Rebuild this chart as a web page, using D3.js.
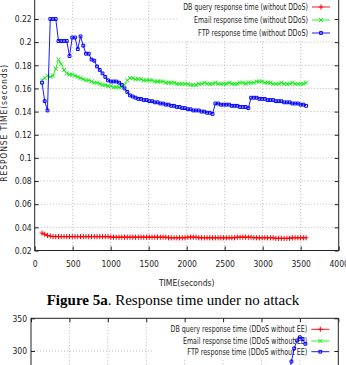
<!DOCTYPE html>
<html><head><meta charset="utf-8">
<script src="https://cdn.jsdelivr.net/npm/d3@7"></script>
<style>
html,body{margin:0;padding:0;background:#fff;}
svg{display:block;}
</style>
</head><body>
<svg id="c" width="346" height="365"></svg>
<script>
// ---------- Figure 5a data (no attack) ----------
const times = [96,132,168,205,241,277,313,349,386,422,458,494,530,567,603,639,675,711,748,784,820,856,892,929,965,1001,1037,1073,1110,1146,1182,1218,1254,1291,1327,1363,1399,1435,1472,1508,1544,1580,1616,1653,1689,1725,1761,1797,1834,1870,1906,1942,1978,2015,2051,2087,2123,2159,2196,2232,2268,2304,2340,2377,2413,2449,2485,2521,2558,2594,2630,2666,2702,2739,2775,2811,2847,2883,2920,2956,2992,3028,3064,3101,3137,3173,3209,3245,3282,3318,3354,3390,3426,3463,3499,3535,3571];
const dbValues = [0.035,0.034,0.033,0.0325,
 0.032,0.032,0.032,0.032,0.032,0.032,0.032,0.032,0.032,0.032,0.032,0.032,0.032,0.032,0.032,0.032,0.032,0.032,0.032,0.032,0.032,
 0.0315,0.0315,0.0315,0.0315,0.0315,0.0315,0.0315,0.0315,0.0315,0.0315,0.0315,0.0315,0.0315,0.0315,0.0315,0.0315,0.0315,0.0315,0.0315,0.0315,0.0315,
 0.031,0.031,0.031,0.031,0.031,0.031,0.031,
 0.0315,0.0315,0.0315,0.0315,
 0.031,0.031,0.031,0.031,0.031,0.031,0.031,0.031,0.031,0.031,0.031,0.031,0.031,0.031,
 0.0315,0.0315,0.0315,0.0315,0.0315,0.0315,
 0.031,0.031,0.031,0.031,0.031,0.031,0.031,0.031,
 0.0305,0.0305,0.0305,0.0305,0.0305,0.0305,
 0.031,0.031,0.031,0.031,0.031,0.031];
const emailValues = [0.167,0.169,0.171,0.170,0.171,0.177,0.185,0.181,0.176,0.173,0.172,0.172,0.171,0.170,0.169,0.168,0.167,0.167,0.166,0.165,0.165,0.164,0.163,0.163,0.162,0.162,0.161,0.161,0.161,0.161,0.163,0.167,0.169,0.169,0.168,0.168,0.168,0.167,0.167,0.167,0.167,0.166,0.166,0.166,0.166,0.165,0.165,0.165,0.165,0.164,0.164,
 0.164,0.164,0.164,0.163,0.163,0.163,0.164,0.164,0.165,0.164,0.164,0.164,0.165,0.164,0.164,0.164,0.164,0.165,0.164,0.164,0.164,0.165,0.165,0.164,0.165,0.165,0.165,0.166,0.166,0.166,0.165,0.165,0.165,0.164,0.164,0.164,0.165,0.164,0.164,0.164,0.165,0.164,0.164,0.164,0.164,0.165];
const ftpValues = [0.165,0.149,0.141,0.220,0.220,0.220,0.201,0.201,0.201,0.201,0.188,0.204,0.204,0.194,0.205,0.197,0.190,0.190,0.185,0.184,0.179,0.176,0.173,0.170,0.167,0.166,0.166,0.166,0.165,0.163,0.160,0.157,0.154,0.153,0.152,0.151,0.151,0.150,0.150,0.149,0.149,0.148,0.148,0.147,0.147,0.146,0.146,0.145,0.145,0.144,0.144,0.143,0.143,0.142,0.142,0.141,0.141,0.141,0.140,0.140,0.139,0.139,0.138,
 0.147,0.147,0.146,0.146,0.146,0.146,0.145,0.145,0.145,0.144,0.144,0.144,0.143,
 0.152,0.152,0.152,0.151,0.151,0.151,0.150,0.150,0.150,0.149,0.149,0.149,0.148,0.148,0.148,0.147,0.147,0.147,0.146,0.146,0.145];
const xTicks = [0,500,1000,1500,2000,2500,3000,3500,4000];
const yTicks = [0.02,0.04,0.06,0.08,0.1,0.12,0.14,0.16,0.18,0.2,0.22,0.24];
const legendA = ["DB query response time (without DDoS)","Email response time (without DDoS)","FTP response time (without DDoS)"];

// ---------- Figure 5b (partially visible) ----------
const ddosTimes = [3354,3390,3426,3463,3499,3535,3571];
const ddosFtpValues = [262,284,304,316,321,318,311];
const y2Ticks = [300,350];
const legendB = ["DB query response time (DDoS without EE)","Email response time (DDoS without EE)","FTP response time (DDoS without EE)"];

const colors = ["#ff0000","#11ee11","#0000ff"];
const markers = ["plus","cross","box"];
const FONT = '"Liberation Sans Narrow","DejaVu Sans Condensed","Liberation Sans",sans-serif';

const svg = d3.select("#c");
svg.append("rect").attr("width",346).attr("height",365).attr("fill","#fff");

function markerPath(type){
  if(type==="plus") return "M-2.3,0H2.3M0,-2.6V2.6";
  if(type==="cross") return "M-2,-2L2,2M-2,2L2,-2";
  return "M-1.4,-1.4H1.4V1.4H-1.4Z";
}

function drawGrid(g, x, y, xT, yT, L, R, T, B){
  g.append("g").selectAll("line").data(xT.filter(v=>v>xT[0]&&v<xT[xT.length-1])).join("line")
    .attr("x1",d=>x(d)).attr("x2",d=>x(d)).attr("y1",T).attr("y2",B)
    .attr("stroke","#a8a8a8").attr("stroke-width",0.8).attr("stroke-dasharray","1,2");
  g.append("g").selectAll("line").data(yT.filter(v=>y(v)>T+1&&y(v)<B-1)).join("line")
    .attr("x1",L).attr("x2",R).attr("y1",d=>y(d)).attr("y2",d=>y(d))
    .attr("stroke","#a8a8a8").attr("stroke-width",0.8).attr("stroke-dasharray","1,2");
}

function drawAxes(g, x, y, xT, yT, L, R, T, B, showXLabels, yFmt, padY){
  const left = g.append("g").attr("transform",`translate(${L},0)`)
    .call(d3.axisLeft(y).tickValues(yT).tickSize(-4).tickPadding(padY).tickFormat(yFmt));
  const right = g.append("g").attr("transform",`translate(${R},0)`)
    .call(d3.axisRight(y).tickValues(yT).tickSize(-4).tickFormat(""));
  const top = g.append("g").attr("transform",`translate(0,${T})`)
    .call(d3.axisTop(x).tickValues(xT).tickSize(-4).tickFormat(""));
  const axes=[left,right,top];
  if(showXLabels){
    const bot = g.append("g").attr("transform",`translate(0,${B})`)
      .call(d3.axisBottom(x).tickValues(xT).tickSize(-4).tickPadding(10).tickFormat(d3.format("d")));
    axes.push(bot);
  }
  axes.forEach(a=>{
    a.select(".domain").remove();
    a.selectAll("line").attr("stroke","#222").attr("stroke-width",1);
    a.selectAll("text").attr("font-size","8.5px").attr("fill","#222").attr("font-family",FONT);
  });
  g.append("rect").attr("x",L).attr("y",T).attr("width",R-L).attr("height",B-T)
    .attr("fill","none").attr("stroke","#222").attr("stroke-width",1);
}

function drawSeries(g, x, y, xs, ys, i){
  const pts = xs.map((t,k)=>[t,ys[k]]);
  g.append("path").datum(pts)
    .attr("d", d3.line().x(d=>x(d[0])).y(d=>y(d[1])))
    .attr("fill","none").attr("stroke",colors[i]).attr("stroke-width",0.9);
  g.append("g").selectAll("path").data(pts).join("path")
    .attr("transform",d=>`translate(${x(d[0])},${y(d[1])})`)
    .attr("d",markerPath(markers[i]))
    .attr("fill","none").attr("stroke",colors[i]).attr("stroke-width",1);
}

function drawLegend(g, labels, widths, boxX, boxY, boxW, boxH, textX, rowYs){
  g.append("rect").attr("x",boxX).attr("y",boxY).attr("width",boxW).attr("height",boxH).attr("fill","#fff");
  labels.forEach((lab,i)=>{
    const tg = g.append("g");
    const t = tg.append("text").attr("x",0).attr("y",0).attr("dy","0.35em")
      .attr("text-anchor","end").attr("font-family",FONT).attr("font-size","9px").attr("fill","#222").text(lab);
    const w = t.node().getComputedTextLength();
    const sx = w>0 ? widths[i]/w : 1;
    tg.attr("transform",`translate(${textX},${rowYs[i]}) scale(${sx},1)`);
    g.append("line").attr("x1",textX+4).attr("x2",textX+22).attr("y1",rowYs[i]).attr("y2",rowYs[i])
      .attr("stroke",colors[i]).attr("stroke-width",0.9);
    g.append("path").attr("transform",`translate(${textX+13},${rowYs[i]})`)
      .attr("d",markerPath(markers[i])).attr("fill","none").attr("stroke",colors[i]).attr("stroke-width",1);
  });
}

// ---------- Chart A ----------
{
  const L=34.7, R=338.7, T=-4.15, B=250.5;
  const x = d3.scaleLinear().domain([0,4000]).range([L,R]);
  const y = d3.scaleLinear().domain([0.02,0.24]).range([B,T]);
  const g = svg.append("g");
  drawGrid(g,x,y,xTicks,yTicks,L,R,T,B);
  drawLegend(g, legendA, [125,114,110], 178, T, R-178-0.5, 40+4.15, 308, [7,20,33]);
  drawSeries(g,x,y,times,dbValues,0);
  drawSeries(g,x,y,times,emailValues,1);
  drawSeries(g,x,y,times,ftpValues,2);
  drawAxes(g,x,y,xTicks,yTicks,L,R,T,B,true,d=>String(d),3);
  g.append("text").attr("transform",`translate(7,${(T+B)/2}) rotate(-90)`)
    .attr("text-anchor","middle").attr("font-family",FONT).attr("font-size","8.5px").attr("fill","#222")
    .attr("textLength",117).attr("lengthAdjust","spacing").text("RESPONSE TIME(seconds)");
  g.append("text").attr("x",(L+R)/2).attr("y",286).attr("text-anchor","middle")
    .attr("font-family",FONT).attr("font-size","8.5px").attr("fill","#222").text("TIME(seconds)");
}

// ---------- Caption ----------
{
  const t = svg.append("text").attr("x",173).attr("y",305).attr("text-anchor","middle")
    .attr("font-family","'Liberation Serif','Times New Roman',serif").attr("font-size","15px").attr("fill","#000");
  t.append("tspan").attr("font-weight","bold").text("Figure 5a");
  t.append("tspan").text(". Response time under no attack");
}

// ---------- Chart B ----------
{
  const L=31, R=338.3, T=318.3, B=318.3+350*0.654;
  const x = d3.scaleLinear().domain([0,4000]).range([L,R]);
  const y = d3.scaleLinear().domain([0,350]).range([B,T]);
  const g = svg.append("g");
  drawGrid(g,x,y,xTicks,y2Ticks,L,R,T,B);
  drawLegend(g, legendB, [137,124.6,120], 154, T+0.5, R-154-0.5, 40, 307.3, [329.3,341,351.7]);
  drawSeries(g,x,y,ddosTimes,ddosFtpValues,2);
  drawAxes(g,x,y,xTicks,y2Ticks,L,R,T,B,false,d=>String(d),4);
}
</script>
</body></html>
